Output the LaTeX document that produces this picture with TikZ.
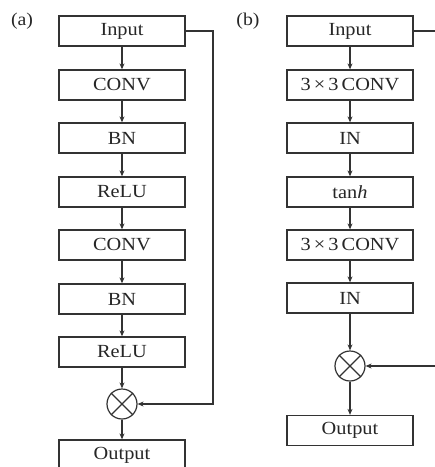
\documentclass[tikz,border=0pt]{standalone}
\usepackage{fontspec}
\setmainfont[FakeStretch=1.1]{Liberation Serif}
\usetikzlibrary{arrows.meta}
\begin{document}
\begin{tikzpicture}[x=1pt,y=-1pt,
  every node/.style={font=\fontsize{18.5}{20}\selectfont, text=black!85},
  blk/.style={draw=black!80, line width=1.3pt, minimum width=126pt, minimum height=30pt, inner sep=0pt, fill=white},
  mul/.style={draw=black!80, line width=1.2pt, circle, minimum size=30pt, inner sep=0pt},
  conn/.style={draw=black!80, line width=1.1pt, -{Stealth[length=6pt,width=5pt]}},
  lbl/.style={font=\fontsize{18}{20}\selectfont}]
\useasboundingbox (0,0) rectangle (435,467);
\clip (0,0) rectangle (435,467);
% (a)
\node[lbl] (la) at (22,21) {(a)};
\node[blk] (a1) at (122,31) {Input};
\node[blk] (a2) at (122,85) {CONV};
\node[blk] (a3) at (122,138) {BN};
\node[blk] (a4) at (122,192) {ReLU};
\node[blk] (a5) at (122,245) {CONV};
\node[blk] (a6) at (122,299) {BN};
\node[blk] (a7) at (122,352) {ReLU};
\node[mul] (am) at (122,404) {};
\draw[black!80, line width=1.2pt] (am.north west) -- (am.south east) (am.north east) -- (am.south west);
\node[blk] (a8) at (122,455) {Output};
\foreach \i/\j in {a1/a2,a2/a3,a3/a4,a4/a5,a5/a6,a6/a7,a7/am,am/a8}
  \draw[conn] (\i) -- (\j);
\coordinate (ac1) at (213,31);
\coordinate (ac2) at (213,404);
\draw[conn] (a1.east) -- (ac1) -- (ac2) -- (am.east);
% (b)
\node[lbl] (lb) at (248,21) {(b)};
\node[blk] (b1) at (350,31) {Input};
\node[blk] (b2) at (350,85) {3\,×\,3\,CONV};
\node[blk] (b3) at (350,138) {IN};
\node[blk] (b4) at (350,192) {tan\textit{h}};
\node[blk] (b5) at (350,245) {3\,×\,3\,CONV};
\node[blk] (b6) at (350,298) {IN};
\node[mul] (bm) at (350,366) {};
\draw[black!80, line width=1.2pt] (bm.north west) -- (bm.south east) (bm.north east) -- (bm.south west);
\node[blk] (b7) at (350,430.5) {Output};
\foreach \i/\j in {b1/b2,b2/b3,b3/b4,b4/b5,b5/b6,b6/bm,bm/b7}
  \draw[conn] (\i) -- (\j);
\coordinate (bc1) at (441,31);
\coordinate (bc2) at (441,366);
\draw[conn] (b1.east) -- (bc1) -- (bc2) -- (bm.east);
\end{tikzpicture}
\end{document}
